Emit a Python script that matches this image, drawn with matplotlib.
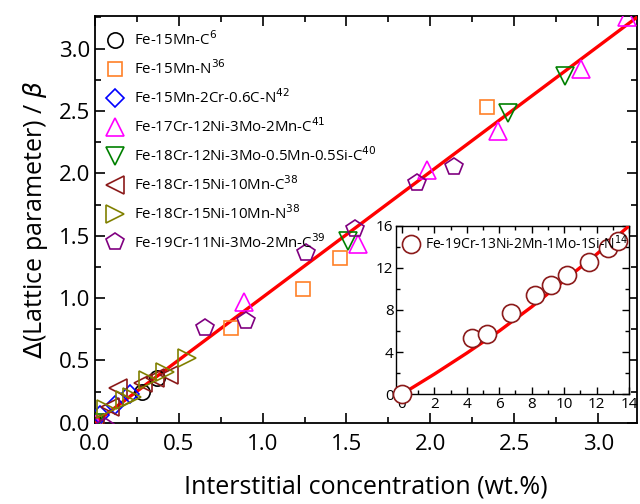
import matplotlib
matplotlib.use("Agg")
import matplotlib.pyplot as plt
from matplotlib.ticker import MultipleLocator

plt.rcParams['font.family'] = ['Open Sans', 'DejaVu Sans']
plt.rcParams['mathtext.fontset'] = 'dejavusans'

# ---- data ----
fe15mn_c_x = [0.0, 0.28, 0.37]
fe15mn_c_y = [0.0, 0.25, 0.36]
fe15mn_n_x = [0.0, 0.815, 1.24, 1.46, 2.34]
fe15mn_n_y = [0.0, 0.76, 1.07, 1.32, 2.53]
fe15mn2cr_x = [0.03, 0.12, 0.21]
fe15mn2cr_y = [0.06, 0.14, 0.23]
fe17cr_x = [0.0, 0.89, 1.57, 1.98, 2.40, 2.90, 3.17]
fe17cr_y = [0.0, 0.97, 1.43, 2.03, 2.34, 2.84, 3.25]
fe18cr12ni_x = [0.0, 1.51, 2.46, 2.80]
fe18cr12ni_y = [0.0, 1.46, 2.48, 2.78]
fe18cr15ni_c_x = [0.0, 0.09, 0.14, 0.29, 0.36, 0.44]
fe18cr15ni_c_y = [0.0, 0.13, 0.28, 0.32, 0.36, 0.38]
fe18cr15ni_n_x = [0.07, 0.18, 0.22, 0.32, 0.42, 0.55]
fe18cr15ni_n_y = [0.11, 0.18, 0.21, 0.34, 0.41, 0.52]
fe19cr11ni_x = [0.06, 0.655, 0.90, 1.26, 1.55, 1.92, 2.14]
fe19cr11ni_y = [-0.03, 0.76, 0.82, 1.36, 1.55, 1.92, 2.05]
fit_x = [0.0, 3.25]
fit_y = [0.0, 3.27]

inset_x = [0.0, 4.3, 5.25, 6.7, 8.2, 9.2, 10.2, 11.5, 12.7, 13.3]
inset_y = [0.0, 5.35, 5.75, 7.75, 9.45, 10.35, 11.3, 12.55, 13.85, 14.6]
inset_fit_x = [0, 2, 4, 6, 8, 10, 12, 14]
inset_fit_y = [0.0, 1.9, 3.9, 6.0, 8.3, 10.8, 13.3, 16.0]

series = [
    (fe15mn_c_x, fe15mn_c_y, 'o', 'black', 'Fe-15Mn-C$^{6}$'),
    (fe15mn_n_x, fe15mn_n_y, 's', '#ff8028', 'Fe-15Mn-N$^{36}$'),
    (fe15mn2cr_x, fe15mn2cr_y, 'D', '#0000ff', 'Fe-15Mn-2Cr-0.6C-N$^{42}$'),
    (fe17cr_x, fe17cr_y, '^', '#ff00ff', 'Fe-17Cr-12Ni-3Mo-2Mn-C$^{41}$'),
    (fe18cr12ni_x, fe18cr12ni_y, 'v', '#008000', 'Fe-18Cr-12Ni-3Mo-0.5Mn-0.5Si-C$^{40}$'),
    (fe18cr15ni_c_x, fe18cr15ni_c_y, '<', '#8b1a1a', 'Fe-18Cr-15Ni-10Mn-C$^{38}$'),
    (fe18cr15ni_n_x, fe18cr15ni_n_y, '>', '#808000', 'Fe-18Cr-15Ni-10Mn-N$^{38}$'),
    (fe19cr11ni_x, fe19cr11ni_y, 'p', '#800080', 'Fe-19Cr-11Ni-3Mo-2Mn-C$^{39}$'),
]
sizes = {'o': 11, 's': 10, 'D': 9, '^': 13, 'v': 13, '<': 13.5, '>': 13.5, 'p': 13}

fig = plt.figure(figsize=(6.4, 5.04), dpi=100)
ax = fig.add_axes([0.148, 0.161, 0.847, 0.807])

ax.plot(fit_x, fit_y, color='#ff0000', lw=2.4, zorder=3)
for x, y, m, c, lab in series:
    ax.plot(x, y, ls='none', marker=m, ms=sizes[m], mfc='none', mec=c, mew=1.2,
            label=lab, zorder=4, clip_on=True)

ax.set_xlim(0, 3.23)
ax.set_ylim(0, 3.26)
ax.xaxis.set_major_locator(MultipleLocator(0.5))
ax.xaxis.set_minor_locator(MultipleLocator(0.25))
ax.yaxis.set_major_locator(MultipleLocator(0.5))
ax.yaxis.set_minor_locator(MultipleLocator(0.25))
ax.tick_params(which='both', direction='in', top=True, right=True, width=1.2)
ax.tick_params(which='major', length=7, labelsize=16)
ax.tick_params(which='minor', length=4)
ax.tick_params(axis='x', pad=8)
for s in ax.spines.values():
    s.set_linewidth(1.3)
ax.set_xlabel('Interstitial concentration (wt.%)', fontsize=18, labelpad=14)
ax.set_ylabel(r'$\Delta$(Lattice parameter) / $\beta$', fontsize=18, labelpad=6)

leg = ax.legend(loc='upper left', frameon=False, fontsize=10.8, handlelength=1.0,
                handletextpad=0.75, labelspacing=0.68, borderaxespad=0.3,
                bbox_to_anchor=(0.005, 0.99))

# ---- inset ----
ia = fig.add_axes([0.619, 0.218, 0.364, 0.334])
ia.plot(inset_fit_x, inset_fit_y, color='#ff0000', lw=2.4, zorder=3)
ia.plot(inset_x, inset_y, ls='none', marker='o', ms=13, mfc='white', mec='#8b1a1a',
        mew=1.2, label='Fe-19Cr-13Ni-2Mn-1Mo-1Si-N$^{14}$', zorder=4, clip_on=False)
ia.set_xlim(-0.35, 14)
ia.set_ylim(0, 16)
ia.xaxis.set_major_locator(MultipleLocator(2))
ia.xaxis.set_minor_locator(MultipleLocator(1))
ia.yaxis.set_major_locator(MultipleLocator(4))
ia.yaxis.set_minor_locator(MultipleLocator(2))
ia.tick_params(which='both', direction='in', top=True, right=True, width=1.0,
               labelsize=11, pad=2)
ia.tick_params(which='major', length=5)
ia.tick_params(which='minor', length=3)
for s in ia.spines.values():
    s.set_linewidth(1.0)
ia.legend(loc='upper left', frameon=False, fontsize=10, handlelength=1.0,
          handletextpad=0.5, borderaxespad=0.2)

fig.savefig('out.png', dpi=100)
